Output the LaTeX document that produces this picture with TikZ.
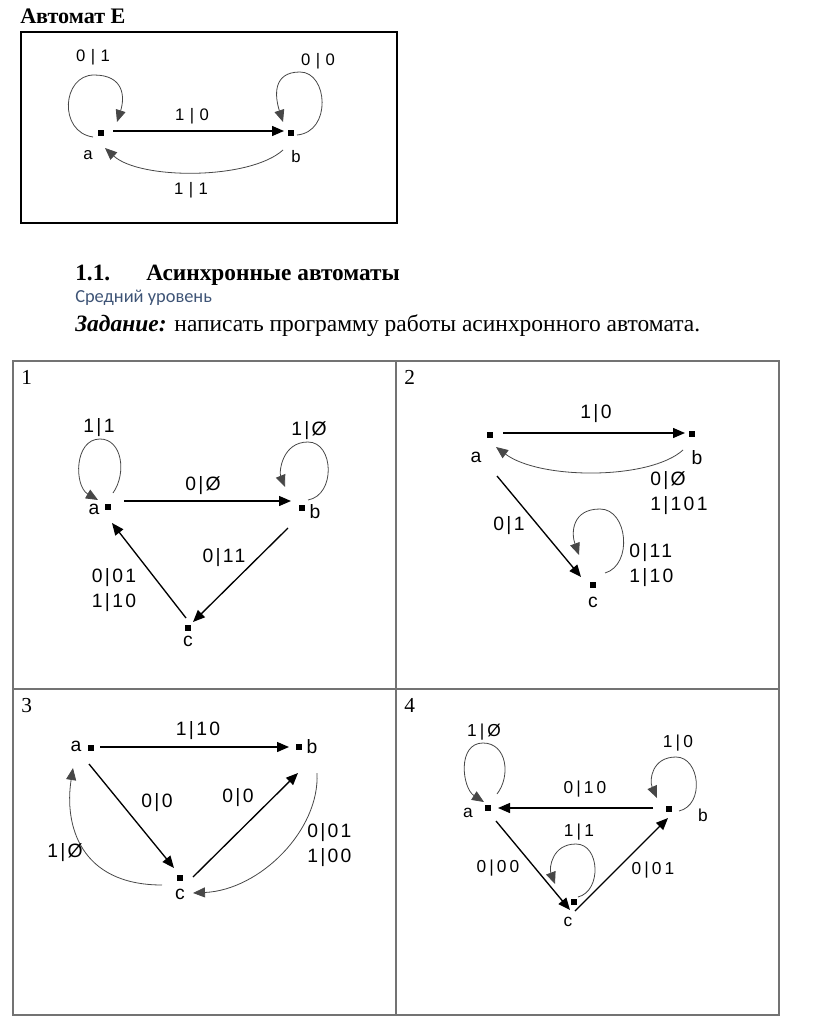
\documentclass[tikz,border=0pt]{standalone}
\usepackage{fontspec}
\setmainfont{Liberation Serif}
\newfontfamily\labA[LetterSpace=33]{Liberation Sans}
\newfontfamily\labB[LetterSpace=12]{Liberation Sans}
\newfontfamily\labC[LetterSpace=18]{Liberation Sans}
\newfontfamily\calfont{Carlito}
\usetikzlibrary{arrows.meta}
\definecolor{subblue}{RGB}{62,84,118}
\begin{document}
\begin{tikzpicture}[x=0.75pt,y=-0.75pt,
  st/.style={fill=black,inner sep=0pt,minimum size=3.8pt},
  lb/.style={font=\labB\fontsize{14.5}{16}\selectfont,inner sep=0pt},
  lbm/.style={lb,align=left,font=\labB\fontsize{14.5}{19}\selectfont},
  lbt/.style={font=\labA\fontsize{12.5}{14}\selectfont,inner sep=0pt},
  lbf/.style={font=\labC\fontsize{13}{15}\selectfont,inner sep=0pt},
  ar/.style={-{Triangle[length=9pt,width=7.5pt]},line width=1pt},
  cv/.style={-{Triangle[length=9pt,width=7.5pt]},line width=0.6pt,draw=black!72},
  cell/.style={draw=black!55,line width=0.8pt},
  num/.style={font=\fontsize{16}{18}\selectfont,inner sep=0pt,anchor=base west},
]
\useasboundingbox (0,0) rectangle (816,1034);
% ---------------- top: Automat E ----------------
\node[anchor=base west,inner sep=0pt,font=\bfseries\fontsize{16.6}{18}\selectfont] (title) at (20,24) {Автомат Е};
\draw[line width=1.5pt] (21,32) rectangle (397,223);
\node[st] (ea) at (101,133) {};
\node[st] (eb) at (291,133) {};
\node[lbt] (eal) at (88,155) {a};
\node[lbt] (ebl) at (296,157) {b};
\draw[ar] ([shift={(12,-2)}]ea.center) -- ([shift={(-7,-2)}]eb.center);
\node[lbt] (e1) at (192,116) {1|0};
\draw[cv] ([shift={(-8,4)}]ea.center) .. controls +(-35,-5) and +(-32,0) .. ([shift={(-7,-58)}]ea.center)
          .. controls +(30,0) and +(8,-25) .. ([shift={(16,-11)}]ea.center);
\node[lbt] (e2) at (93,57) {0|1};
\draw[cv] ([shift={(6,2)}]eb.center) .. controls +(35,-3) and +(28,0) .. ([shift={(9,-61)}]eb.center)
          .. controls +(-28,0) and +(-8,-25) .. ([shift={(-8,-11)}]eb.center);
\node[lbt] (e3) at (318,61) {0|0};
\draw[cv] ([shift={(-8,17)}]eb.center) .. controls +(-33,30) and +(35,32) .. ([shift={(4,15)}]ea.center);
\node[lbt] (e4) at (191,190) {1|1};
% ---------------- header ----------------
\node[anchor=base west,inner sep=0pt,font=\bfseries\fontsize{17.5}{20}\selectfont] (h1) at (75,280) {1.1.};
\node[anchor=base west,inner sep=0pt,font=\bfseries\fontsize{17.5}{20}\selectfont] (h2) at (146,280) {Асинхронные автоматы};
\node[anchor=base west,inner sep=0pt,font=\calfont\fontsize{13.8}{16}\selectfont,text=subblue] (h3) at (75,302) {Средний уровень};
\node[anchor=base west,inner sep=0pt,font=\fontsize{17.6}{20}\selectfont] (h4) at (75,331) {\textbf{\textit{Задание:}} написать программу работы асинхронного автомата.};
% ---------------- table ----------------
\draw[cell] (13,361) rectangle (779,1015);
\draw[cell] (396,361) -- (396,1015);
\draw[cell] (13,689) -- (779,689);
\node[num] (n1) at (21,384) {1};
\node[num] (n2) at (404,384) {2};
\node[num] (n3) at (21,712) {3};
\node[num] (n4) at (404,712) {4};
% ---------------- cell 1 ----------------
\node[st] (a1) at (108,507) {};
\node[st] (b1) at (302,508) {};
\node[st] (c1) at (188,628) {};
\node[lb] (a1l) at (94,509) {a};
\node[lb] (b1l) at (315,512) {b};
\node[lb] (c1l) at (188,641) {c};
\draw[ar] ([shift={(16,-6)}]a1.center) -- ([shift={(-11,-7)}]b1.center);
\node[lb] (t11) at (203,486) {0|Ø};
\draw[ar] ([shift={(-14,20)}]b1.center) -- ([shift={(5,-6)}]c1.center);
\node[lb] (t12) at (224,558) {0|11};
\draw[ar] ([shift={(-2,-10)}]c1.center) -- ([shift={(4,16)}]a1.center);
\node[lbm] (t13) at (114,590) {0|01\\1|10};
\draw[cv] ([shift={(5,-14)}]a1.center) .. controls +(14,-20) and +(22,0) .. ([shift={(-8,-68)}]a1.center)
          .. controls +(-26,0) and +(-24,-14) .. ([shift={(-10,-7)}]a1.center);
\node[lb] (t14) at (99,428) {1|1};
\draw[cv] ([shift={(6,-8)}]b1.center) .. controls +(28,-5) and +(26,0) .. ([shift={(6,-66)}]b1.center)
          .. controls +(-26,0) and +(-6,-15) .. ([shift={(-17,-21)}]b1.center);
\node[lb] (t15) at (309,431) {1|Ø};
% ---------------- cell 2 ----------------
\node[st] (a2) at (490,435) {};
\node[st] (b2) at (692,434) {};
\node[st] (c2) at (593,585) {};
\node[lb] (a2l) at (476,457) {a};
\node[lb] (b2l) at (697,458) {b};
\node[lb] (c2l) at (593,602) {c};
\draw[ar] ([shift={(13,-2)}]a2.center) -- ([shift={(-7,-1)}]b2.center);
\node[lb] (t21) at (596,414) {1|0};
\draw[cv] ([shift={(-9,16)}]b2.center) .. controls +(-33,30) and +(44,33) .. ([shift={(6,12)}]a2.center);
\node[lbm,anchor=north west] (t22) at (650,471) {0|Ø\\1|101};
\draw[ar] ([shift={(7,41)}]a2.center) -- ([shift={(-12,-8)}]c2.center);
\node[lb] (t23) at (509,526) {0|1};
\draw[cv] ([shift={(12,-12)}]c2.center) .. controls +(28,-8) and +(28,0) .. ([shift={(7,-76)}]c2.center)
          .. controls +(-28,0) and +(-8,-22) .. ([shift={(-14,-30)}]c2.center);
\node[lbm,anchor=north west] (t24) at (629,543) {0|11\\1|10};
% ---------------- cell 3 ----------------
\node[st] (a3) at (91,748) {};
\node[st] (b3) at (299,747) {};
\node[st] (c3) at (180,878) {};
\node[lb] (a3l) at (76,746) {a};
\node[lb] (b3l) at (312,747) {b};
\node[lb] (c3l) at (180,894) {c};
\draw[ar] ([shift={(9,-1)}]a3.center) -- ([shift={(-10,0)}]b3.center);
\node[lb] (t31) at (198,731) {1|10};
\draw[ar] ([shift={(-2,16)}]a3.center) -- ([shift={(-6,-10)}]c3.center);
\node[lb] (t32) at (157,803) {0|0};
\draw[ar] ([shift={(13,-1)}]c3.center) -- ([shift={(-1,26)}]b3.center);
\node[lb] (t33) at (238,798) {0|0};
\draw[cv] ([shift={(-18,7)}]c3.center) .. controls +(-82,0) and +(-9,57) .. ([shift={(-18,20)}]a3.center);
\node[lb] (t34) at (65,853) {1|Ø};
\draw[cv] ([shift={(18,26)}]b3.center) .. controls +(3,57) and +(67,-3) .. ([shift={(13,15)}]c3.center);
\node[lbm,anchor=north west] (t35) at (307,823) {0|01\\1|00};
% ---------------- cell 4 ----------------
\node[st] (a4) at (488,808) {};
\node[st] (b4) at (669,809) {};
\node[st] (c4) at (574,902) {};
\node[lbf] (a4l) at (468,813) {a};
\node[lbf] (b4l) at (703,815) {b};
\node[lbf] (c4l) at (568,922) {c};
\draw[ar] ([shift={(-16,-1)}]b4.center) -- ([shift={(10,0)}]a4.center);
\node[lbf] (t41) at (585,789) {0|10};
\draw[ar] ([shift={(8,13)}]a4.center) -- ([shift={(-4,8)}]c4.center);
\node[lbf] (t42) at (498,868) {0|00};
\draw[ar] ([shift={(1,9)}]c4.center) -- ([shift={(-1,9)}]b4.center);
\node[lbf] (t43) at (653,870) {0|01};
\draw[cv] ([shift={(9,-14)}]a4.center) .. controls +(14,-18) and +(24,0) .. ([shift={(-5,-65)}]a4.center)
          .. controls +(-26,0) and +(-22,-14) .. ([shift={(-4,-6)}]a4.center);
\node[lbf] (t44) at (484,732) {1|Ø};
\draw[cv] ([shift={(10,2)}]b4.center) .. controls +(26,-6) and +(24,0) .. ([shift={(7,-52)}]b4.center)
          .. controls +(-24,0) and +(-8,-18) .. ([shift={(-12,-11)}]b4.center);
\node[lbf] (t45) at (678,743) {1|0};
\draw[cv] ([shift={(4,-5)}]c4.center) .. controls +(24,-6) and +(24,0) .. ([shift={(2,-58)}]c4.center)
          .. controls +(-24,0) and +(-6,-16) .. ([shift={(-19,-18)}]c4.center);
\node[lbf] (t46) at (579,832) {1|1};
\end{tikzpicture}
\end{document}
